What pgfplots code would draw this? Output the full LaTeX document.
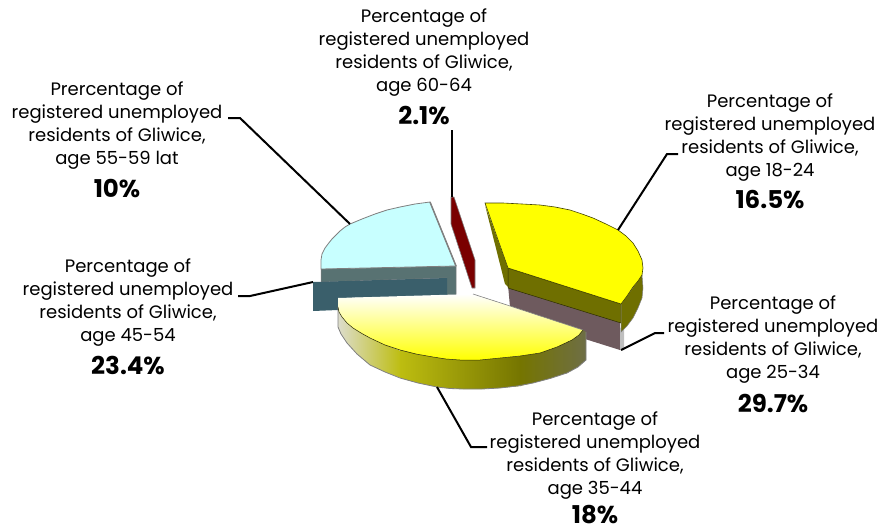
\documentclass[border=0pt]{standalone}
\usepackage{pgfplots}
\pgfplotsset{compat=1.18}
\usepackage{fontspec}
\setmainfont{Poppins}
\definecolor{cyantop}{HTML}{C8FFFF}
\definecolor{cyanside}{HTML}{587272}
\definecolor{tealtop}{HTML}{3A5F6B}
\definecolor{wine}{HTML}{7A0000}
\definecolor{olive2}{HTML}{6F6F00}
\definecolor{mauve}{HTML}{6E5A5E}
\definecolor{edge}{HTML}{808080}
\definecolor{pureyellow}{HTML}{FFFF00}
\definecolor{sa}{HTML}{DDDDCC}
\definecolor{sb}{HTML}{BDBD10}
\definecolor{sc}{HTML}{757500}
\definecolor{sd}{HTML}{6E6E45}
\newcommand{\lab}[5]{\node[inner sep=0pt,align=center,font=\fontsize{18}{23}\selectfont] at (axis cs:#1,#2) {#3};
  \node[inner sep=0pt,font=\fontsize{24.5}{28}\selectfont\bfseries] at (axis cs:#1,#4) {#5};}
\begin{document}
\begin{tikzpicture}
\useasboundingbox (0,0) rectangle (883pt,530pt);
\begin{axis}[
  hide axis, scale only axis, width=883pt, height=530pt,
  xmin=0, xmax=883, ymin=0, ymax=530, y dir=reverse, clip=false]

% slice 55-59 (light cyan)
\addplot[fill=cyanside, draw=edge, line width=0.5pt] coordinates {
  (321,269) (456,266) (456,295) (446,295) (446,278) (321,282)} --cycle;
\addplot[fill=cyantop, draw=edge, line width=0.8pt] coordinates {
  (430,202) (415,204) (400,207) (387,210) (375,214) (362,219) (350,224) (345,227) (340,231) (336,235) (332,239) (328,244) (325,248) (322,254) (321,260) (321,269) (456,266)} --cycle;
\addplot[draw=edge, line width=1.5pt] coordinates {(430,202) (456,266)};
% slice 45-54 (dark teal)
\addplot[fill=tealtop, draw=none] coordinates {
  (313,282) (447,278) (447,296) (338,298) (338,310) (313,311)} --cycle;
% slice 60-64 (wine)
\addplot[fill=wine, draw=edge, line width=0.6pt] coordinates {
  (451,197) (454,197) (475,260) (475,288) (472,288) (451,224)} --cycle;
% slice 25-34 side (mauve)
\addplot[fill=mauve, draw=none] coordinates {
  (508,285) (620,320) (620,350) (585,339) (583,330) (510,307)} --cycle;
\addplot[fill=black!25, draw=none] coordinates {
  (620,328) (624,326) (624,350) (620,350)} --cycle;
% slice 18-24 (yellow)
\addplot[fill=olive2, draw=none] coordinates {
  (485,205) (508,268) (508,287) (505,284)} --cycle;
\addplot[fill=olive2, draw=black!60!olive2, line width=0.5pt] coordinates {
  (508,268) (621,304) (621,323) (508,288)} --cycle;
\addplot[fill=olive2, draw=edge, line width=0.5pt] coordinates {
  (621,304) (642,275) (643,288) (642,298) (638,308) (633,318) (627,326) (621,332)} --cycle;
\addplot[fill=pureyellow, draw=black!40!olive2, line width=0.6pt] coordinates {
  (485,203) (503,203) (522,204) (540,205) (555,207) (570,210) (582,214) (593,218) (606,224) (618,230) (626,236) (633,243) (638,251) (642,260) (643,268) (642,275) (638,281) (633,287) (627,296) (621,304) (508,268)} --cycle;
% slice 35-44 (gradient)
\addplot[left color=sa, right color=sb, draw=none] coordinates {
  (338,307) (339,312) (342,317) (347,323) (353,328) (361,333) (370,338) (385,345) (401,351) (401,378) (385,372) (370,365) (357,354) (347,343) (341,334) (338,327)} --cycle;
\addplot[left color=sb, right color=sc, draw=none] coordinates {
  (400,350) (416,354) (433,357) (446,359) (460,360) (480,360) (521,356) (521,386) (500,388) (482,389) (463,389) (450,388.5) (437,387) (418,383) (400,378)} --cycle;
\addplot[left color=sc, right color=sd, draw=none] coordinates {
  (520,356) (540,353) (557,347) (572,340) (579,335) (583,330) (586,332) (586,360) (578,367) (567,373) (550,378.5) (533,383) (520,386)} --cycle;
\addplot[draw=edge, line width=0.8pt] coordinates {
  (338,307) (338,327) (341,334) (347,343) (357,354) (370,365) (385,372) (400,378) (418,383) (437,387) (450,388.5) (463,389) (482,389) (500,388) (517,386) (533,383) (550,378.5) (567,373) (578,367) (586,360) (586,332)};
\addplot[top color=white, bottom color=pureyellow, draw=none] coordinates {
  (338,298) (473,294) (507,305) (583,330) (579,335) (572,340) (557,347) (540,353) (520,356) (500,358) (480,360) (460,360) (446,359) (433,357) (416,354) (400,350) (385,345) (370,338) (361,333) (353,328) (347,323) (342,317) (339,312) (338,307)} --cycle;
\addplot[draw=edge, line width=0.6pt] coordinates {(473,294) (507,305) (583,330)};
\addplot[draw=black!70!olive2, line width=0.5pt] coordinates {
  (338,307) (339,312) (342,317) (347,323) (353,328) (361,333) (370,338) (385,345) (400,350) (416,354) (433,357) (446,359) (460,360) (480,360) (500,358) (520,356) (540,353) (557,347) (572,340) (579,335) (583,330)};

% leader lines
\addplot[black, line width=2pt] coordinates {(452,130) (452,197)};
\addplot[black, line width=2pt] coordinates {(228,118) (240,118) (350,224)};
\addplot[black, line width=2pt] coordinates {(238,296) (250,296) (313,282)};
\addplot[black, line width=2pt] coordinates {(618,230) (667,154) (678,154)};
\addplot[black, line width=2pt] coordinates {(621,350) (655,333) (664,333)};
\addplot[black, line width=2pt] coordinates {(437,387) (471,447) (487,447)};

% labels
\lab{424}{53}{Percentage of\\registered unemployed\\residents of Gliwice,\\age 60-64}{115}{2.1\%}
\lab{117}{126}{Prercentage of\\registered unemployed\\residents of Gliwice,\\age 55-59 lat}{189}{10\%}
\lab{128}{303}{Percentage of\\registered unemployed\\residents of Gliwice,\\age 45-54}{365}{23.4\%}
\lab{770}{138}{Percentage of\\registered unemployed\\residents of Gliwice,\\age 18-24}{200}{16.5\%}
\lab{773}{340}{Percentage of\\registered unemployed\\residents of Gliwice,\\age 25-34}{403}{29.7\%}
\lab{595}{456}{Percentage of\\registered unemployed\\residents of Gliwice,\\age 35-44}{515}{18\%}
\end{axis}
\end{tikzpicture}
\end{document}
